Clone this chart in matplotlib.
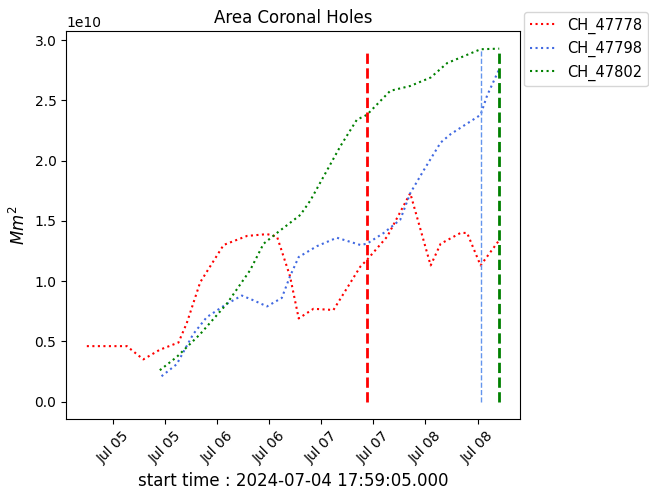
import numpy as np
import pandas as pd
import matplotlib
matplotlib.use("Agg")
import matplotlib.pyplot as plt
import matplotlib.dates as mdates

# Area of each coronal hole over time (values in units of 1e10 Mm^2)
red_times = ["2024-07-04 17:59", "2024-07-05 03:12", "2024-07-05 07:00", "2024-07-05 10:48",
             "2024-07-05 15:06", "2024-07-05 17:00", "2024-07-05 20:06", "2024-07-06 01:30",
             "2024-07-06 06:54", "2024-07-06 11:30", "2024-07-06 13:48", "2024-07-06 16:48",
             "2024-07-06 18:48", "2024-07-06 22:12", "2024-07-07 02:48", "2024-07-07 09:00",
             "2024-07-07 10:30", "2024-07-07 15:12", "2024-07-07 20:30", "2024-07-08 01:12",
             "2024-07-08 03:30", "2024-07-08 08:06", "2024-07-08 09:36", "2024-07-08 12:42",
             "2024-07-08 17:00"]
red_area = [0.46, 0.46, 0.35, 0.43, 0.49, 0.65, 0.99, 1.30, 1.375, 1.39, 1.37, 1.04,
            0.69, 0.77, 0.76, 1.12, 1.175, 1.37, 1.73, 1.13, 1.31, 1.40, 1.40, 1.13, 1.34]

blue_times = ["2024-07-05 11:12", "2024-07-05 14:42", "2024-07-05 18:30", "2024-07-05 21:36",
              "2024-07-06 02:12", "2024-07-06 05:42", "2024-07-06 08:24", "2024-07-06 11:30",
              "2024-07-06 14:54", "2024-07-06 16:48", "2024-07-06 18:48", "2024-07-06 23:00",
              "2024-07-07 03:36", "2024-07-07 09:00", "2024-07-07 10:30", "2024-07-07 14:24",
              "2024-07-07 18:12", "2024-07-07 20:30", "2024-07-07 23:36", "2024-07-08 03:30",
              "2024-07-08 05:48", "2024-07-08 12:42", "2024-07-08 14:12", "2024-07-08 17:00"]
blue_area = [0.21, 0.31, 0.56, 0.70, 0.81, 0.88, 0.84, 0.79, 0.86, 1.04, 1.20, 1.29,
             1.36, 1.30, 1.31, 1.40, 1.51, 1.73, 1.92, 2.15, 2.22, 2.38, 2.54, 2.76]

green_times = ["2024-07-05 10:48", "2024-07-05 14:42", "2024-07-05 20:06", "2024-07-06 02:12",
               "2024-07-06 07:36", "2024-07-06 10:42", "2024-07-06 13:48", "2024-07-06 19:12",
               "2024-07-06 21:30", "2024-07-07 04:24", "2024-07-07 08:12", "2024-07-07 10:30",
               "2024-07-07 15:54", "2024-07-07 20:30", "2024-07-08 01:12", "2024-07-08 05:00",
               "2024-07-08 12:42", "2024-07-08 17:00"]
green_area = [0.26, 0.37, 0.56, 0.81, 1.09, 1.31, 1.40, 1.55, 1.67, 2.12, 2.34, 2.38,
              2.58, 2.62, 2.69, 2.81, 2.925, 2.93]

labels = ["CH_47778", "CH_47798", "CH_47802"]
colors = ["red", "royalblue", "green"]
vline_times = ["2024-07-07 10:30", "2024-07-08 12:42", "2024-07-08 17:00"]
vline_colors = ["red", "cornflowerblue", "green"]
vline_widths = [2, 1, 2]

fig = plt.figure(figsize=(6.49, 4.92), dpi=100)
ax = fig.add_axes([0.102, 0.148, 0.699, 0.789])

series = [(red_times, red_area), (blue_times, blue_area), (green_times, green_area)]
for (t, a), lab, c in zip(series, labels, colors):
    ax.plot(pd.to_datetime(t), np.array(a) * 1e10, ls=":", lw=1.5, color=c, label=lab)

top = max(max(red_area), max(blue_area), max(green_area)) * 1e10
for t, c, w in zip(vline_times, vline_colors, vline_widths):
    ax.vlines(pd.to_datetime(t), 0, top, colors=c, linestyles="--", linewidth=w)

ax.xaxis.set_major_locator(mdates.HourLocator(byhour=[0, 12]))
ax.xaxis.set_major_formatter(mdates.DateFormatter("%b %d"))
plt.setp(ax.get_xticklabels(), rotation=45)

ax.set_title("Area Coronal Holes")
ax.set_ylabel("$Mm^2$", fontsize=12)
ax.set_xlabel("start time : 2024-07-04 17:59:05.000", fontsize=12)
ax.legend(loc="upper left", bbox_to_anchor=(1.01, 1.05), fontsize=10.5,
          handlelength=1.8, handletextpad=0.7, borderaxespad=0)

fig.savefig("out.png", dpi=100)
